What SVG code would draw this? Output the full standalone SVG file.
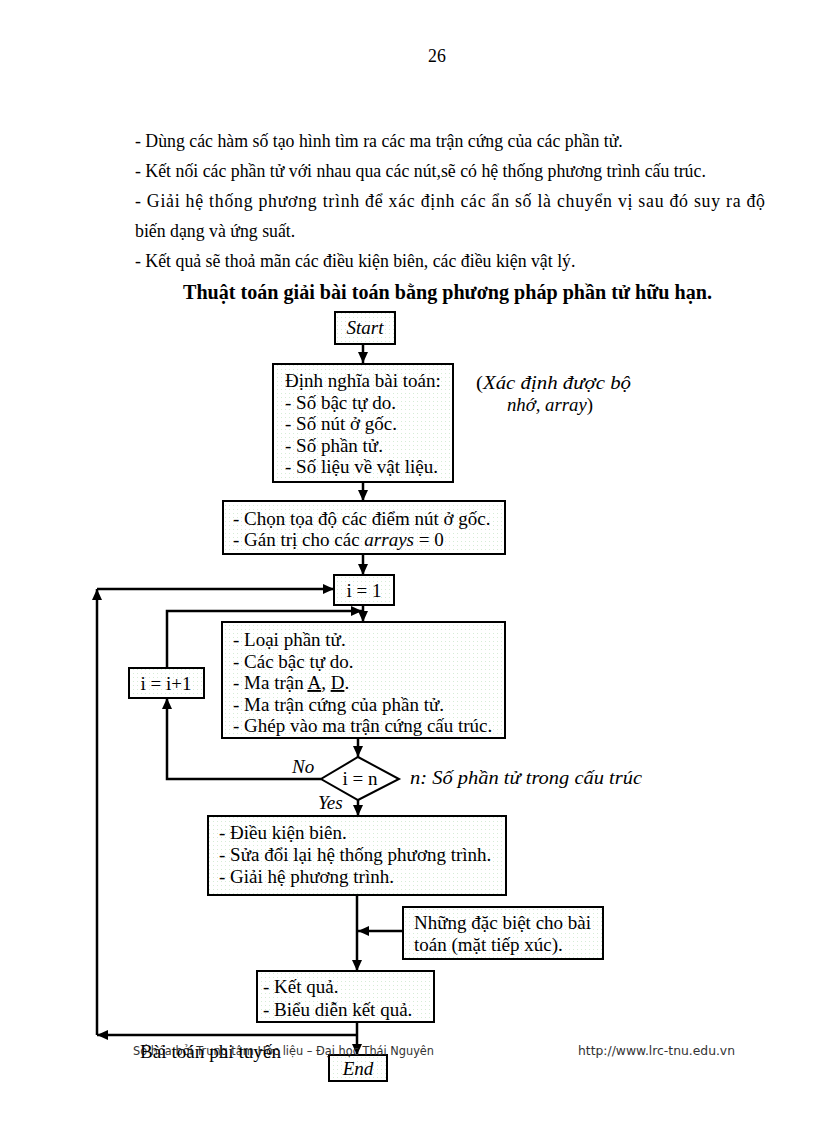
<svg xmlns="http://www.w3.org/2000/svg" width="816" height="1123" viewBox="0 0 816 1123">
<defs>
<pattern id="dots" width="4" height="4" patternUnits="userSpaceOnUse">
<rect width="4" height="4" fill="#ffffff"/>
<rect x="1" y="1" width="1" height="1" fill="#d6ecd6"/>
</pattern>
<marker id="ah" markerUnits="userSpaceOnUse" markerWidth="12" markerHeight="10" refX="11" refY="5" orient="auto">
<path d="M0,0 L11,5 L0,10 Z" fill="#000"/>
</marker>
<style>
.t{font-family:"Liberation Serif","Times New Roman",serif;font-size:17.8px;fill:#000}
.b{font-family:"Liberation Serif","Times New Roman",serif;font-size:19px;fill:#000}
.i{font-style:italic}
.box{fill:url(#dots);stroke:#000;stroke-width:2}
.c{fill:none;stroke:#000;stroke-width:2.5}
.f{font-family:"DejaVu Sans","Liberation Sans",sans-serif;font-size:11.5px;fill:#333}
</style>
</defs>
<rect width="816" height="1123" fill="#fff"/>
<text class="t" x="437" y="62" text-anchor="middle">26</text>
<text class="t" x="135" y="147">- Dùng các hàm số tạo hình tìm ra các ma trận cứng của các phần tử.</text>
<text class="t" x="135" y="177">- Kết nối các phần tử với nhau qua các nút,sẽ có hệ thống phương trình cấu trúc.</text>
<text class="t" x="135" y="207" textLength="630" lengthAdjust="spacing">- Giải hệ thống phương trình để xác định các ẩn số là chuyển vị sau đó suy ra độ</text>
<text class="t" x="135" y="237">biến dạng và ứng suất.</text>
<text class="t" x="135" y="267">- Kết quả sẽ thoả mãn các điều kiện biên, các điều kiện vật lý.</text>
<text class="t" x="183" y="299" textLength="529" lengthAdjust="spacingAndGlyphs" style="font-weight:bold;font-size:20px">Thuật toán giải bài toán bằng phương pháp phần tử hữu hạn.</text>

<g id="connectors">
<path class="c" d="M363 344 V363" marker-end="url(#ah)"/>
<path class="c" d="M363 482 V501" marker-end="url(#ah)"/>
<path class="c" d="M363 554 V575" marker-end="url(#ah)"/>
<path class="c" d="M363 605 V622" marker-end="url(#ah)"/>
<path class="c" d="M167 668 V611 H362" marker-end="url(#ah)"/>
<path class="c" d="M358 738 V757" marker-end="url(#ah)"/>
<path class="c" d="M321 779 H167 V698" marker-end="url(#ah)"/>
<path class="c" d="M358 800 V816" marker-end="url(#ah)"/>
<path class="c" d="M357 895 V971" marker-end="url(#ah)"/>
<path class="c" d="M403 931 H358" marker-end="url(#ah)"/>
<path class="c" d="M357 1022 V1055" marker-end="url(#ah)"/>
<path class="c" d="M357 1035 H97" marker-end="url(#ah)"/>
<path class="c" d="M97 1035 V589" marker-end="url(#ah)"/>
<path class="c" d="M97 589 H334" marker-end="url(#ah)"/>
</g>

<g id="start">
<rect class="box" x="335" y="312" width="60" height="32"/>
<text class="b i" x="365" y="334" text-anchor="middle">Start</text>
</g>
<g id="define">
<rect class="box" x="273" y="364" width="180" height="118"/>
<text class="b" x="285" y="387">Định nghĩa bài toán:</text>
<text class="b" x="285" y="409">- Số bậc tự do.</text>
<text class="b" x="285" y="430">- Số nút ở gốc.</text>
<text class="b" x="285" y="452">- Số phần tử.</text>
<text class="b" x="285" y="473">- Số liệu về vật liệu.</text>
</g>
<g id="note-memory">
<text class="b" x="476" y="389" textLength="155" lengthAdjust="spacingAndGlyphs">(<tspan class="i">Xác định được bộ</tspan></text>
<text class="b" x="507" y="411" textLength="86" lengthAdjust="spacingAndGlyphs"><tspan class="i">nhớ, array</tspan>)</text>
</g>
<g id="coords">
<rect class="box" x="223" y="501" width="282" height="53"/>
<text class="b" x="233" y="525">- Chọn tọa độ các điểm nút ở gốc.</text>
<text class="b" x="233" y="546">- Gán trị cho các <tspan class="i">arrays</tspan> = 0</text>
</g>
<g id="i1">
<rect class="box" x="334" y="575" width="60" height="30"/>
<text class="b" x="364" y="597" text-anchor="middle">i = 1</text>
</g>
<g id="iinc">
<rect class="box" x="129" y="668" width="75" height="30"/>
<text class="b" x="166" y="690" text-anchor="middle">i = i+1</text>
</g>
<g id="loop">
<rect class="box" x="222" y="622" width="283" height="116"/>
<text class="b" x="233" y="646">- Loại phần tử.</text>
<text class="b" x="233" y="668">- Các bậc tự do.</text>
<text class="b" x="233" y="689">- Ma trận <tspan text-decoration="underline">A</tspan>, <tspan text-decoration="underline">D</tspan>.</text>
<text class="b" x="233" y="711">- Ma trận cứng của phần tử.</text>
<text class="b" x="233" y="732">- Ghép vào ma trận cứng cấu trúc.</text>
</g>
<g id="decision">
<polygon points="358,757 399,779 358,800 321,779" fill="#fff" stroke="#000" stroke-width="2"/>
<text class="b" x="360" y="785" text-anchor="middle">i = n</text>
<text class="b i" x="292" y="773">No</text>
<text class="b i" x="318" y="809">Yes</text>
<text class="b i" x="410" y="784" textLength="232" lengthAdjust="spacingAndGlyphs">n: Số phần tử trong cấu trúc</text>
</g>
<g id="solve">
<rect class="box" x="208" y="816" width="298" height="79"/>
<text class="b" x="219" y="839">- Điều kiện biên.</text>
<text class="b" x="219" y="861">- Sửa đổi lại hệ thống phương trình.</text>
<text class="b" x="219" y="883">- Giải hệ phương trình.</text>
</g>
<g id="special">
<rect class="box" x="403" y="907" width="200" height="52"/>
<text class="b" x="414" y="929">Những đặc biệt cho bài</text>
<text class="b" x="414" y="951">toán (mặt tiếp xúc).</text>
</g>
<g id="result">
<rect class="box" x="257" y="971" width="177" height="51"/>
<text class="b" x="263" y="993">- Kết quả.</text>
<text class="b" x="263" y="1016">- Biểu diễn kết quả.</text>
</g>
<g id="end">
<rect class="box" x="329" y="1055" width="58" height="26"/>
<text class="b i" x="358" y="1075" text-anchor="middle">End</text>
</g>
<text class="f" x="133" y="1055" textLength="301" lengthAdjust="spacingAndGlyphs">Số hóa bởi Trung tâm Học liệu – Đại học Thái Nguyên</text>
<text class="f" x="578" y="1055" textLength="157" lengthAdjust="spacingAndGlyphs">http://www.lrc-tnu.edu.vn</text>
<text class="b" x="140" y="1058" textLength="141" lengthAdjust="spacingAndGlyphs">Bài toán phi tuyến</text>
</svg>
